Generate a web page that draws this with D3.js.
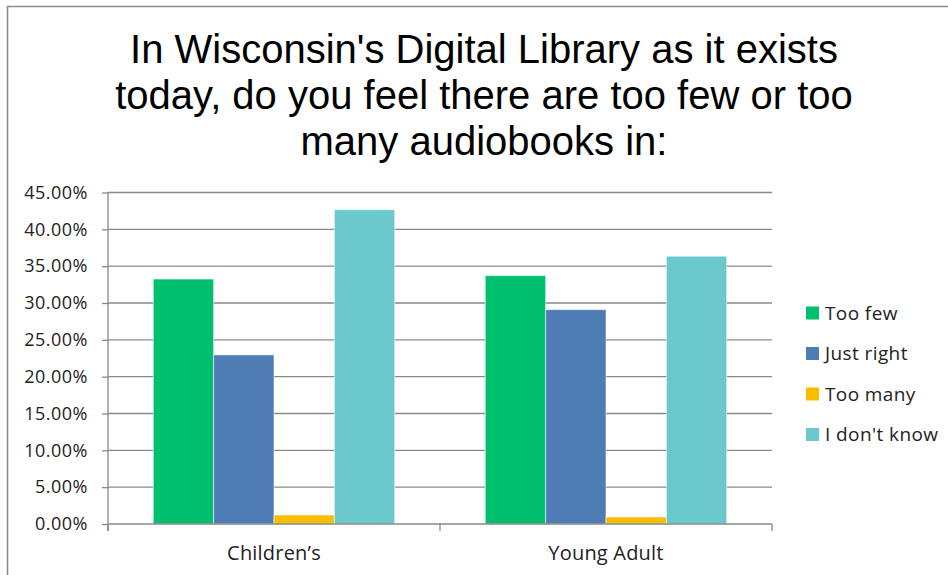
<!DOCTYPE html>
<html>
  <head>
    <meta charset="utf-8">
    <title>Audiobooks in Wisconsin's Digital Library</title>
    <script src="https://cdn.jsdelivr.net/npm/d3@7/dist/d3.min.js"></script>
    <style>
      body { margin: 0; background: #fff; }
      #chart { display: block; }
      .title { font-family: "Liberation Sans", Arial, sans-serif; font-size: 40px; fill: #000; }
      .axis text { font-family: "Open Sans", sans-serif; font-size: 18px; fill: #222; letter-spacing: 0.5px; }
      .axis path, .axis line, .grid line { stroke: #898989; stroke-width: 1.3; }
      .catLabel { font-family: "Open Sans", sans-serif; font-size: 20px; fill: #222; letter-spacing: 0.2px; }
      .legend text { font-family: "Open Sans", sans-serif; font-size: 19px; fill: #222; letter-spacing: 0.4px; }
      .bar { stroke: #fff; stroke-opacity: 0.55; stroke-width: 1; }
    </style>
  </head>

  <body>
    <svg id="chart" width="948" height="575"></svg>

    <script>
      // data
      const titleLines = [
        "In Wisconsin's Digital Library as it exists",
        "today, do you feel there are too few or too",
        "many audiobooks in:"
      ];
      const categories = ["Children\u2019s", "Young Adult"];
      const series = ["Too few", "Just right", "Too many", "I don't know"];
      const colours = ["#00bf6f", "#507cb6", "#f9be00", "#6bc8cd"];
      const tooFew = [0.3325, 0.3372];
      const justRight = [0.2296, 0.2910];
      const tooMany = [0.0122, 0.0095];
      const dontKnow = [0.4266, 0.3635];
      const yTicks = [0, 0.05, 0.10, 0.15, 0.20, 0.25, 0.30, 0.35, 0.40, 0.45];

      const values = [tooFew, justRight, tooMany, dontKnow];
      const rows = categories.map((c, i) => ({
        category: c,
        bars: series.map((s, j) => ({ key: s, value: values[j][i] }))
      }));

      // layout
      const margin = { top: 192.5, right: 176, bottom: 51, left: 108 };
      const width = 948, height = 575;
      const plotRight = width - margin.right;
      const plotBottom = height - margin.bottom;

      const chart = d3.select("#chart");

      // frame
      chart.append("path")
        .attr("d", "M7.5,600 V6.5 H960")
        .attr("fill", "none")
        .attr("stroke", "#8c8c8c")
        .attr("stroke-width", 1.6);

      // title
      chart.append("text")
        .attr("class", "title")
        .attr("text-anchor", "middle")
        .selectAll("tspan")
          .data(titleLines)
        .enter().append("tspan")
          .attr("x", 484)
          .attr("y", (d, i) => 63 + i * 46)
          .text(d => d);

      // scales
      const gap = 1.5 / 5.5;
      const x0 = d3.scaleBand()
        .domain(categories)
        .range([margin.left, plotRight])
        .paddingInner(gap)
        .paddingOuter(gap / 2);
      const x1 = d3.scaleBand()
        .domain(series)
        .range([0, x0.bandwidth()]);
      const y = d3.scaleLinear()
        .domain([0, 0.45])
        .range([plotBottom, margin.top]);
      const colour = d3.scaleOrdinal()
        .domain(series)
        .range(colours);

      // gridlines
      chart.append("g")
        .attr("class", "grid")
        .selectAll("line")
          .data(yTicks.slice(1))
        .enter().append("line")
          .attr("x1", margin.left)
          .attr("x2", plotRight)
          .attr("y1", d => y(d))
          .attr("y2", d => y(d));

      // bars
      const groups = chart.append("g")
        .selectAll(".group")
          .data(rows)
        .enter().append("g")
          .attr("class", "group")
          .attr("transform", d => "translate(" + x0(d.category) + ", 0)");

      groups.selectAll(".bar")
          .data(d => d.bars)
        .enter().append("rect")
          .attr("class", "bar")
          .attr("x", d => x1(d.key))
          .attr("width", x1.bandwidth())
          .attr("y", d => y(d.value))
          .attr("height", d => y(0) - y(d.value))
          .attr("fill", d => colour(d.key));

      // y axis
      const yAxis = d3.axisLeft(y)
        .tickValues(yTicks)
        .tickFormat(d3.format(".2%"))
        .tickSizeInner(6)
        .tickSizeOuter(0)
        .tickPadding(14);

      const yAxisGroup = chart.append("g")
        .attr("class", "axis")
        .attr("transform", "translate(" + margin.left + ", 0)")
        .call(yAxis);
      yAxisGroup.select(".domain")
        .attr("d", "M0," + margin.top + "V" + (plotBottom + 7));

      // x axis
      const bounds = d3.range(categories.length + 1)
        .map(i => margin.left + i * x0.step());
      const xAxisGroup = chart.append("g")
        .attr("class", "axis");
      xAxisGroup.append("line")
        .attr("x1", margin.left)
        .attr("x2", plotRight)
        .attr("y1", y(0))
        .attr("y2", y(0));
      xAxisGroup.selectAll(".tickMark")
          .data(bounds)
        .enter().append("line")
          .attr("class", "tickMark")
          .attr("x1", d => d)
          .attr("x2", d => d)
          .attr("y1", y(0))
          .attr("y2", y(0) + 7);

      chart.append("g")
        .selectAll(".catLabel")
          .data(categories)
        .enter().append("text")
          .attr("class", "catLabel")
          .attr("text-anchor", "middle")
          .attr("x", d => x0(d) + x0.bandwidth() / 2)
          .attr("y", 560)
          .text(d => d);

      // legend
      const legend = chart.append("g")
        .attr("class", "legend")
        .attr("transform", "translate(806, 313)");

      const items = legend.selectAll(".item")
          .data(series)
        .enter().append("g")
          .attr("class", "item")
          .attr("transform", (d, i) => "translate(0, " + i * 40.5 + ")");

      items.append("rect")
        .attr("x", 0)
        .attr("y", -6.5)
        .attr("width", 13)
        .attr("height", 13)
        .attr("fill", d => colour(d));

      items.append("text")
        .attr("x", 19)
        .attr("y", 6.8)
        .text(d => d);
    </script>
  </body>
</html>
